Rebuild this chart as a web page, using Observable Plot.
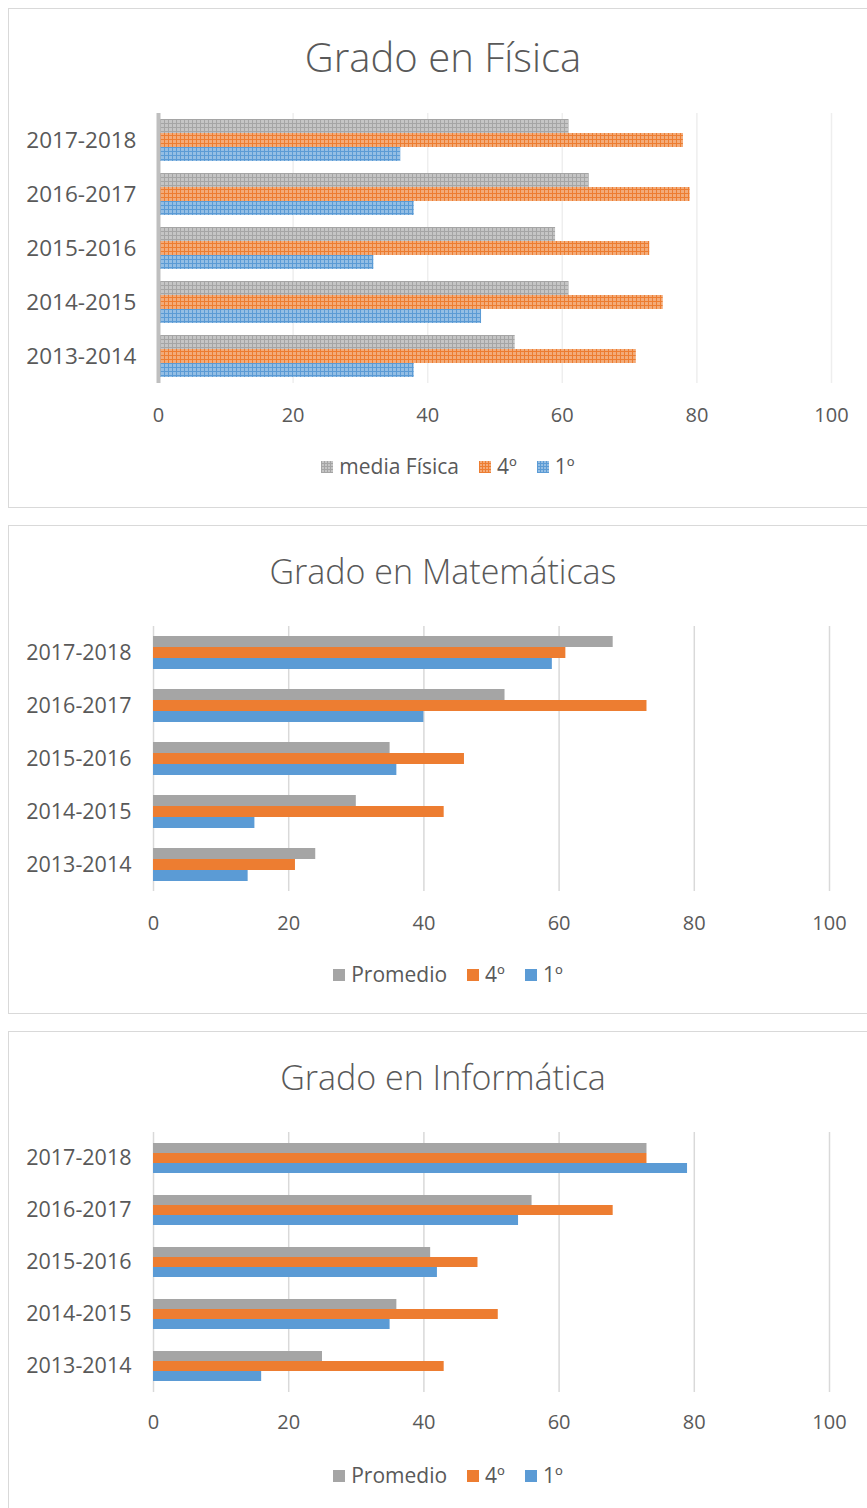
<!DOCTYPE html>
<html><head><meta charset="utf-8">
<script src="https://cdn.jsdelivr.net/npm/d3@7"></script>
<script src="https://cdn.jsdelivr.net/npm/@observablehq/plot@0.6"></script>
<style>
html,body{margin:0;padding:0;background:#fff}
body{width:867px;height:1508px;overflow:hidden;position:relative;font-family:"Open Sans",sans-serif;color:#595959}
.panel{position:absolute;left:8px;width:900px;border:1.5px solid #d9d9d9;box-sizing:border-box;background:#fff}
.title{position:absolute;left:8px;width:870px;text-align:center;font-weight:300;color:#595959;line-height:1;white-space:nowrap}
.chart{position:absolute;left:0;top:0}
.legend{position:absolute;left:8px;width:880px;display:flex;justify-content:center;align-items:center;font-size:21px;color:#595959;line-height:1}
.item{display:flex;align-items:center;margin:0 10px}
.sw{width:12px;height:12px;margin-right:6px;display:inline-block}
</style></head>
<body>
<script>
// ---------- data ----------
const years = ["2013-2014", "2014-2015", "2015-2016", "2016-2017", "2017-2018"];
const xTicks = [0, 20, 40, 60, 80, 100];

const fisicaSeries = ["media Física", "4º", "1º"];
const fisicaMedia = [53, 61, 59, 64, 61];
const fisica4 = [71, 75, 73, 79, 78];
const fisica1 = [38, 48, 32, 38, 36];

const matSeries = ["Promedio", "4º", "1º"];
const matPromedio = [24, 30, 35, 52, 68];
const mat4 = [21, 43, 46, 73, 61];
const mat1 = [14, 15, 36, 40, 59];

const infSeries = ["Promedio", "4º", "1º"];
const infPromedio = [25, 36, 41, 56, 73];
const inf4 = [43, 51, 48, 68, 73];
const inf1 = [16, 35, 42, 54, 79];

const seriesColors = ["#A5A5A5", "#ED7D31", "#5B9BD5"];

// ---------- helpers ----------
function lighten(c, k) {
  const a = d3.rgb(c);
  return d3.rgb(a.r + (255 - a.r) * k, a.g + (255 - a.g) * k, a.b + (255 - a.b) * k).formatHex();
}

function buildRows(series, values) {
  const rows = [];
  years.forEach((yr, i) => {
    series.forEach((s, j) => rows.push({year: yr, series: s, value: values[j][i]}));
  });
  return rows;
}

function panel(cfg) {
  const p = document.createElement("div");
  p.className = "panel";
  p.style.top = cfg.top + "px";
  p.style.height = cfg.height + "px";
  document.body.appendChild(p);

  const t = document.createElement("div");
  t.className = "title";
  t.style.fontSize = cfg.titleSize + "px";
  t.style.top = (cfg.top + cfg.titleY - cfg.titleSize / 2) + "px";
  t.textContent = cfg.title;
  document.body.appendChild(t);

  const rows = buildRows(cfg.series, cfg.values);
  const fills = cfg.patterned
    ? seriesColors.map((c, i) => `url(#pat-${cfg.id}-${i})`)
    : seriesColors;

  const marks = [
    Plot.ruleX(xTicks, {x: d => d, stroke: cfg.patterned ? "#EEEEEE" : "#D9D9D9", strokeWidth: 1.5}),
    Plot.barX(rows, {x: "value", y: "series", fy: "year", fill: "series"})
  ];
  if (cfg.patterned) marks.push(Plot.ruleX([0], {stroke: "#BFBFBF", strokeWidth: 4}));
  marks.push(Plot.axisX({ticks: xTicks, tickSize: 0, tickPadding: cfg.tickPad, fontSize: 20, label: null}));
  marks.push(Plot.axisFy({anchor: "left", tickSize: 0, tickPadding: 22, fontSize: cfg.fySize, label: null}));

  const svgTop = cfg.top + cfg.plotY - 10;
  const chart = Plot.plot({
    width: 867,
    height: 10 + cfg.plotH + 45,
    marginTop: 10,
    marginBottom: 45,
    marginLeft: cfg.x0,
    marginRight: 867 - cfg.x100,
    style: {fontFamily: "'Open Sans', sans-serif", fontSize: "20px", color: "#595959", background: "transparent", overflow: "visible"},
    x: {domain: [0, 100], axis: null},
    y: {domain: cfg.series, axis: null, paddingInner: 0, paddingOuter: cfg.po},
    fy: {domain: years.slice().reverse(), padding: 0, axis: null},
    color: {domain: cfg.series, range: fills},
    marks
  });
  chart.classList.add("chart");
  chart.style.position = "absolute";
  chart.style.top = svgTop + "px";
  chart.style.left = "0px";

  if (cfg.patterned) {
    const ns = "http://www.w3.org/2000/svg";
    const defs = document.createElementNS(ns, "defs");
    seriesColors.forEach((c, i) => {
      const pat = document.createElementNS(ns, "pattern");
      pat.setAttribute("id", `pat-${cfg.id}-${i}`);
      pat.setAttribute("patternUnits", "userSpaceOnUse");
      pat.setAttribute("width", 4);
      pat.setAttribute("height", 4);
      const bg = document.createElementNS(ns, "rect");
      bg.setAttribute("width", 4); bg.setAttribute("height", 4);
      bg.setAttribute("fill", lighten(c, 0.35));
      pat.appendChild(bg);
      const h = document.createElementNS(ns, "rect");
      h.setAttribute("width", 4); h.setAttribute("height", 1);
      h.setAttribute("fill", c);
      pat.appendChild(h);
      const v = document.createElementNS(ns, "rect");
      v.setAttribute("width", 1); v.setAttribute("height", 4);
      v.setAttribute("fill", c);
      pat.appendChild(v);
      defs.appendChild(pat);
    });
    chart.insertBefore(defs, chart.firstChild);
  }
  document.body.appendChild(chart);

  const lg = document.createElement("div");
  lg.className = "legend";
  lg.style.top = (cfg.top + cfg.legendY - 11) + "px";
  cfg.series.forEach((s, i) => {
    const it = document.createElement("div");
    it.className = "item";
    const sw = document.createElement("span");
    sw.className = "sw";
    const c = seriesColors[i];
    if (cfg.patterned) {
      sw.style.background = `repeating-linear-gradient(0deg, ${c} 0 1px, transparent 1px 3px), repeating-linear-gradient(90deg, ${c} 0 1px, ${lighten(c, 0.35)} 1px 3px)`;
    } else {
      sw.style.background = c;
    }
    it.appendChild(sw);
    const tx = document.createElement("span");
    tx.textContent = s;
    it.appendChild(tx);
    lg.appendChild(it);
  });
  document.body.appendChild(lg);
}

panel({id: "fis", top: 8, height: 500, title: "Grado en Física", titleSize: 40, titleY: 49, plotY: 105, plotH: 270,
  x0: 158, x100: 831, tickPad: 24, po: 0.4, patterned: true, legendY: 459, fySize: 22.5,
  series: fisicaSeries, values: [fisicaMedia, fisica4, fisica1]});

panel({id: "mat", top: 525, height: 489, title: "Grado en Matemáticas", titleSize: 34, titleY: 46, plotY: 100, plotH: 266,
  x0: 153, x100: 829, tickPad: 24, po: 0.9, patterned: false, legendY: 450, fySize: 21.5,
  series: matSeries, values: [matPromedio, mat4, mat1]});

panel({id: "inf", top: 1031, height: 520, title: "Grado en Informática", titleSize: 34, titleY: 46, plotY: 99, plotH: 263,
  x0: 153, x100: 829, tickPad: 22, po: 0.9, patterned: false, legendY: 445, fySize: 21.5,
  series: infSeries, values: [infPromedio, inf4, inf1]});
</script>
</body></html>
